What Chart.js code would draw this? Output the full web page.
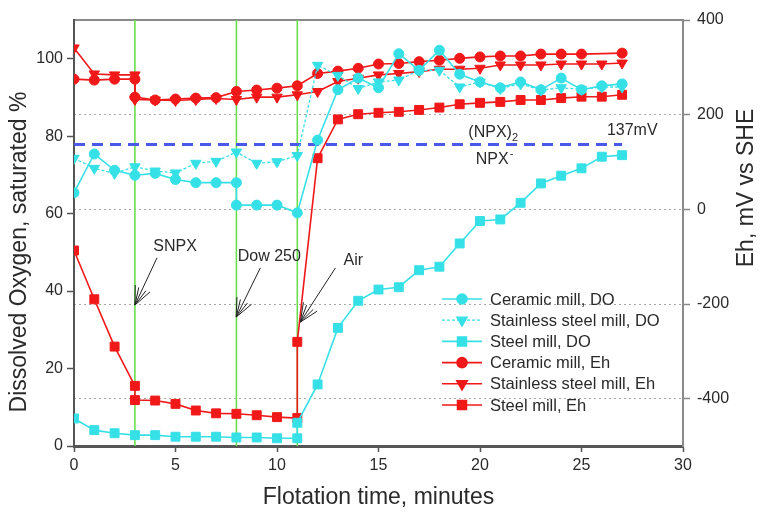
<!DOCTYPE html>
<html>
<head>
<meta charset="utf-8">
<script src="https://cdn.jsdelivr.net/npm/chart.js@4.4.1/dist/chart.umd.min.js"></script>
<style>
  html, body { margin: 0; padding: 0; background: #fff; }
  #chartBox { width: 764px; height: 514px; }
</style>
</head>
<body>
<div id="chartBox"><canvas id="flotationChart" width="764" height="514"></canvas></div>
<script>
// tick labels
const timeTicks = [0, 5, 10, 15, 20, 25, 30];
const doTicks = [0, 20, 40, 60, 80, 100];
const ehTicks = [-400, -200, 0, 200, 400];

// dissolved oxygen, % saturation (left axis)
const tCeramicDO = [0, 1, 2, 3, 4, 5, 6, 7, 8, 8, 9, 10, 11, 12, 13, 14, 15, 16, 17, 18, 19, 20, 21, 22, 23, 24, 25, 26, 27];
const ceramicDO = [65.4, 75.4, 71.2, 69.9, 70.4, 68.8, 68, 68, 68, 62.2, 62.2, 62.2, 60.2, 79, 92, 95, 92.5, 101.3, 97, 102.2, 96, 94, 92.5, 94, 92, 95, 92, 93, 93.5];

const tStainlessDO = [0, 1, 2, 3, 4, 5, 6, 7, 8, 9, 10, 11, 12, 13, 14, 15, 16, 17, 18, 19, 20, 21, 22, 23, 24, 25, 26, 27];
const stainlessDO = [74.3, 71.7, 70.4, 72.1, 71, 70.5, 73, 73.5, 75.9, 73, 73.4, 75, 98.3, 95.7, 92.3, 94, 94.5, 97, 97, 92.7, 94, 92.3, 93.5, 91.9, 92.5, 92.1, 92.7, 92.7];

const tSteelDO = [0, 1, 2, 3, 4, 5, 6, 7, 8, 9, 10, 11, 11, 12, 13, 14, 15, 16, 17, 18, 19, 20, 21, 22, 23, 24, 25, 26, 27];
const steelDO = [7.1, 4.1, 3.3, 2.8, 2.8, 2.4, 2.4, 2.4, 2.2, 2.2, 2.0, 2.0, 6.0, 15.9, 30.5, 37.5, 40.4, 41, 45.4, 46.3, 52.3, 58.1, 58.5, 62.8, 67.8, 69.8, 71.7, 74.7, 75.1];

// Eh, mV vs SHE (right axis)
const tCeramicEh = [0, 1, 2, 3, 3, 4, 5, 6, 7, 8, 9, 10, 11, 12, 13, 14, 15, 16, 17, 18, 19, 20, 21, 22, 23, 24, 25, 27];
const ceramicEh = [275, 273, 275, 275, 237, 231, 233, 235, 236, 249, 252, 256, 261, 287, 292, 298, 307, 308, 312, 315, 319, 322, 324, 324, 328, 328, 328, 330];

const tStainlessEh = [0, 1, 2, 3, 3, 4, 5, 6, 7, 8, 9, 10, 11, 12, 13, 14, 15, 16, 17, 18, 19, 20, 21, 22, 23, 24, 25, 26, 27];
const stainlessEh = [341, 286, 284, 284, 232, 231, 230, 232, 234, 232, 237, 237, 242, 249, 270, 277, 284, 287, 291, 296, 296, 298, 305, 305, 305, 307, 307, 307, 309];

const tSteelEh = [0, 1, 2, 3, 3, 4, 5, 6, 7, 8, 9, 10, 11, 11, 12, 13, 14, 15, 16, 17, 18, 19, 20, 21, 22, 23, 24, 25, 26, 27];
const steelEh = [-87, -190, -290, -373, -403, -404, -411, -425, -431, -432, -435, -439, -441, -280, 108, 190, 201, 204, 206, 210, 215, 222, 225, 227, 231, 231, 235, 238, 238, 242];

// reagent additions (minutes) and the (NPX)2 / NPX- potential (mV)
const reagentTimes = [3, 8, 11];
const npxPotential = 137;
const npxSpan = [0, 27];

const FONT = '"Liberation Sans", Arial, Helvetica, sans-serif';
const CYAN = "#35e0e6";
const RED = "#f01818";
const TEXT = "#2a2a2a";

function toPoints(times, values) {
  return times.map((t, i) => ({ x: t, y: values[i] }));
}

function series(label, times, values, axis, color, style, extra) {
  return Object.assign({
    label: label,
    data: toPoints(times, values),
    yAxisID: axis,
    borderColor: color,
    backgroundColor: color,
    pointBackgroundColor: color,
    pointBorderColor: color,
    borderWidth: 1.6,
    pointBorderWidth: 1,
    pointStyle: style,
    pointRadius: style === "rect" ? 6.3 : style === "triangle" ? 6 : 5,
    pointRotation: style === "triangle" ? 180 : 0,
    tension: 0,
    order: 1,
  }, extra || {});
}

const datasets = [
  series("Ceramic mill, DO", tCeramicDO, ceramicDO, "y", CYAN, "circle"),
  series("Stainless steel mill, DO", tStainlessDO, stainlessDO, "y", CYAN, "triangle", { borderDash: [3, 2], borderWidth: 1.3 }),
  series("Steel mill, DO", tSteelDO, steelDO, "y", CYAN, "rect"),
  series("Ceramic mill, Eh", tCeramicEh, ceramicEh, "eh", RED, "circle"),
  series("Stainless steel mill, Eh", tStainlessEh, stainlessEh, "eh", RED, "triangle"),
  series("Steel mill, Eh", tSteelEh, steelEh, "eh", RED, "rect"),
];

datasets.push({
  label: "npx",
  data: npxSpan.map((t) => ({ x: t, y: npxPotential })),
  yAxisID: "eh",
  borderColor: "#4a5ae8",
  borderWidth: 3,
  borderDash: [11, 7],
  pointRadius: 0,
  order: 2,
});

reagentTimes.forEach((t) => {
  datasets.push({
    label: "reagent",
    data: [{ x: t, y: -500 }, { x: t, y: 400 }],
    yAxisID: "eh",
    borderColor: "#6ade4e",
    borderWidth: 1.6,
    pointRadius: 0,
    order: 3,
  });
});

// labels and arrows placed in data units (time, DO % or mV)
const notes = [
  { text: "SNPX", t: 4.98, v: 51.4, axis: "y" },
  { text: "Dow 250", t: 9.62, v: 48.8, axis: "y" },
  { text: "Air", t: 13.76, v: 47.8, axis: "y" },
  { text: "(NPX)", sub: "2", t: 20.5, v: 163, axis: "eh" },
  { text: "NPX", sup: "-", t: 20.6, v: 106, axis: "eh" },
  { text: "137mV", t: 27.5, v: 167, axis: "eh" },
];
const arrows = [
  { from: [4.09, 48.6], to: [3.0, 36.4] },
  { from: [9.18, 46.0], to: [7.99, 33.3] },
  { from: [12.88, 46.0], to: [11.15, 32.0] },
];

function verticalTitle(ctx, text, x, y) {
  ctx.save();
  ctx.translate(x, y);
  ctx.rotate(-Math.PI / 2);
  ctx.font = "23px " + FONT;
  ctx.textAlign = "center";
  ctx.textBaseline = "middle";
  ctx.fillStyle = TEXT;
  ctx.fillText(text, 0, 0);
  ctx.restore();
}

const notesPlugin = {
  id: "notes",
  afterDatasetsDraw(chart) {
    const { ctx, scales } = chart;
    ctx.save();
    ctx.fillStyle = TEXT;
    ctx.textBaseline = "middle";
    notes.forEach((n) => {
      const x = scales.x.getPixelForValue(n.t);
      const y = scales[n.axis].getPixelForValue(n.v);
      ctx.font = "16px " + FONT;
      const w = ctx.measureText(n.text).width;
      ctx.textAlign = "left";
      ctx.fillText(n.text, x - w / 2, y);
      if (n.sub) {
        ctx.font = "11px " + FONT;
        ctx.fillText(n.sub, x + w / 2, y + 6);
      }
      if (n.sup) {
        ctx.font = "11px " + FONT;
        ctx.fillText(n.sup, x + w / 2 + 1, y - 5);
      }
    });

    ctx.strokeStyle = "#222";
    ctx.lineWidth = 1;
    arrows.forEach((a) => {
      const x1 = scales.x.getPixelForValue(a.from[0]);
      const y1 = scales.y.getPixelForValue(a.from[1]);
      const x2 = scales.x.getPixelForValue(a.to[0]);
      const y2 = scales.y.getPixelForValue(a.to[1]);
      const ang = Math.atan2(y1 - y2, x1 - x2);
      ctx.beginPath();
      ctx.moveTo(x1, y1);
      ctx.lineTo(x2, y2);
      [-0.42, -0.22, 0.22, 0.42].forEach((d, k) => {
        const len = k === 0 || k === 3 ? 20 : 18;
        ctx.moveTo(x2, y2);
        ctx.lineTo(x2 + Math.cos(ang + d) * len, y2 + Math.sin(ang + d) * len);
      });
      ctx.stroke();
    });

    // axis titles, both read bottom to top
    verticalTitle(ctx, "Dissolved Oxygen, saturated %", 20, 252);
    verticalTitle(ctx, "Eh, mV vs SHE", chart.width - 17, 188);

    // legend inside the plot
    const area = chart.chartArea;
    const lx = area.left + 368;
    const ly = area.top + 279;
    chart.data.datasets.slice(0, 6).forEach((ds, i) => {
      const y = ly + i * 21.2;
      ctx.save();
      ctx.strokeStyle = ds.borderColor;
      ctx.lineWidth = ds.borderWidth;
      ctx.setLineDash(ds.borderDash || []);
      ctx.beginPath();
      ctx.moveTo(lx, y);
      ctx.lineTo(lx + 40, y);
      ctx.stroke();
      ctx.setLineDash([]);
      ctx.fillStyle = ds.pointBackgroundColor;
      ctx.strokeStyle = ds.pointBorderColor;
      Chart.helpers.drawPoint(ctx, {
        pointStyle: ds.pointStyle,
        rotation: ds.pointRotation,
        radius: ds.pointRadius,
        borderWidth: 1,
      }, lx + 20, y);
      ctx.restore();
      ctx.font = "16.5px " + FONT;
      ctx.fillStyle = TEXT;
      ctx.textAlign = "left";
      ctx.fillText(ds.label, lx + 48, y + 1);
    });
    ctx.restore();
  },
};

const tickFont = { family: FONT, size: 16 };
const titleFont = { family: FONT, size: 23 };

new Chart(document.getElementById("flotationChart"), {
  type: "line",
  data: { datasets: datasets },
  plugins: [notesPlugin],
  options: {
    responsive: false,
    animation: false,
    devicePixelRatio: 1,
    layout: { padding: 0 },
    plugins: {
      legend: { display: false },
      tooltip: { enabled: false },
    },
    scales: {
      x: {
        type: "linear",
        position: "bottom",
        min: 0,
        max: 30,
        afterBuildTicks: (s) => { s.ticks = timeTicks.map((v) => ({ value: v })); },
        afterFit: (s) => { s.height = 68; },
        grid: { drawOnChartArea: false, tickLength: 6, tickColor: "#555", tickWidth: 1.5 },
        border: { color: "#555", width: 3 },
        ticks: { font: tickFont, color: TEXT, padding: 4, maxRotation: 0 },
        title: { display: true, text: "Flotation time, minutes", font: titleFont, color: TEXT, padding: { top: 0, bottom: 3 } },
      },
      xTop: {
        type: "linear",
        position: "top",
        min: 0,
        max: 30,
        afterFit: (s) => { s.height = 20; },
        ticks: { display: false },
        grid: { display: false },
        border: { color: "#8a8a8a", width: 2 },
      },
      y: {
        type: "linear",
        position: "left",
        min: 0,
        max: 110,
        afterBuildTicks: (s) => { s.ticks = doTicks.map((v) => ({ value: v })); },
        afterFit: (s) => { s.width = 74; },
        grid: { drawOnChartArea: false, tickLength: 7, tickColor: "#555", tickWidth: 1.5 },
        border: { color: "#555", width: 2 },
        ticks: { font: tickFont, color: TEXT, padding: 4 },
      },
      eh: {
        type: "linear",
        position: "right",
        min: -500,
        max: 400,
        afterBuildTicks: (s) => { s.ticks = ehTicks.map((v) => ({ value: v })); },
        afterFit: (s) => { s.width = 81; },
        grid: { color: "#a8a8a0", lineWidth: 1, tickLength: 7, tickColor: "#888", tickWidth: 1.5 },
        border: { color: "#8a8a8a", width: 2, dash: [2, 3] },
        ticks: { font: tickFont, color: TEXT, padding: 7 },
      },
    },
  },
});
</script>
</body>
</html>
